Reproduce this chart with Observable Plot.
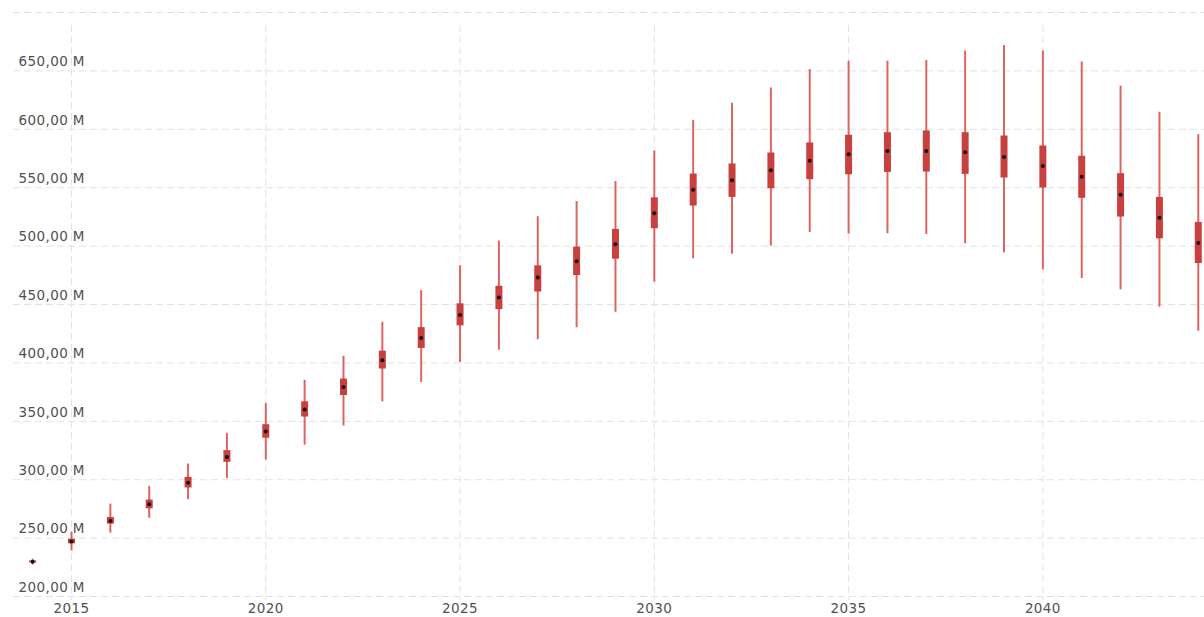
<!DOCTYPE html>
<html>
<head>
<meta charset="utf-8">
<script src="https://cdn.jsdelivr.net/npm/d3@7"></script>
<script src="https://cdn.jsdelivr.net/npm/@observablehq/plot@0.6"></script>
<style>
  html, body { margin: 0; padding: 0; background: #fff; }
  #chart svg { display: block; }
  #chart svg text { letter-spacing: 0.4px; }
</style>
</head>
<body>
<div id="chart"></div>
<script>
const years = [2014,2015,2016,2017,2018,2019,2020,2021,2022,2023,2024,2025,2026,2027,2028,2029,2030,2031,2032,2033,2034,2035,2036,2037,2038,2039,2040,2041,2042,2043,2044];
const low    = [227.1,239.1,254.3,267.1,282.9,300.9,316.9,329.6,346.0,366.7,383.3,400.3,410.9,419.8,430.1,443.3,469.1,489.1,493.1,500.0,511.7,510.3,510.6,510.0,502.0,494.3,479.7,472.3,462.6,447.7,427.1];
const q1     = [228.8,245.1,262.0,275.1,292.9,314.9,335.5,353.7,372.1,394.8,412.4,431.7,445.6,460.7,474.8,488.8,514.9,534.3,541.7,549.1,556.9,561.1,563.1,563.4,561.4,558.3,549.7,540.9,524.9,506.3,485.1];
const median = [229.7,247.1,264.6,278.9,297.4,319.4,341.2,360.1,379.3,402.3,421.3,441.0,455.9,473.1,487.1,501.7,528.1,548.3,556.3,564.9,573.1,578.6,581.4,581.4,580.3,576.3,568.6,559.4,544.0,524.3,502.6];
const q3     = [230.5,249.1,267.7,282.6,302.0,324.9,347.1,366.7,386.2,410.1,430.2,450.6,465.6,483.1,499.1,514.3,541.3,561.7,570.3,579.7,588.3,594.9,597.1,598.6,597.1,594.3,585.7,576.9,562.0,541.7,520.3];
const high   = [232.0,255.1,279.1,294.3,313.4,339.7,365.1,385.1,405.7,434.8,461.8,483.2,504.3,525.2,538.1,555.3,581.4,607.7,622.3,635.4,651.1,658.3,658.3,658.9,667.1,671.7,667.1,657.7,636.9,614.6,595.4];

const xTicks = [2015,2020,2025,2030,2035,2040];
const yGrid = [200,250,300,350,400,450,500,550,600,650,700];
const yLabels = [200,250,300,350,400,450,500,550,600,650];

const data = years.map((year, i) => ({year, low: low[i], q1: q1[i], median: median[i], q3: q3[i], high: high[i]}));

const fmtY = d => d.toFixed(2).replace(".", ",") + " M";

const chart = Plot.plot({
  width: 1204,
  height: 617,
  marginLeft: 13,
  marginRight: 0,
  marginTop: 12,
  marginBottom: 17,
  style: {fontFamily: "DejaVu Sans, sans-serif", fontSize: "13.5px", color: "#505050", background: "#fff"},
  x: {domain: [2013.507, 2044.16], axis: null, label: null},
  y: {domain: [196.6, 700], axis: null, label: null},
  marks: [
    Plot.gridY(yGrid, {stroke: "#e2e2e2", strokeOpacity: 1, strokeDasharray: "7,4"}),
    Plot.gridX(xTicks, {stroke: "#e2e2e2", strokeOpacity: 1, strokeDasharray: "7,4", insetTop: 13}),
    Plot.axisY(yLabels, {anchor: "left", label: null, tickSize: 0, tickPadding: 0, textAnchor: "start", dx: 5, dy: -9, tickFormat: fmtY, fill: "#505050"}),
    Plot.axisX(xTicks, {anchor: "bottom", label: null, tickSize: 0, tickPadding: 2.5, tickFormat: d => String(d), fill: "#505050"}),
    Plot.ruleX(data, {x: "year", y1: "low", y2: "high", stroke: "#dc6461", strokeWidth: 2}),
    Plot.ruleX(data, {x: "year", y1: "q1", y2: "q3", stroke: "#c9413e", strokeWidth: 7}),
    Plot.dot(data, {x: "year", y: "median", r: 2, fill: "#111", stroke: null})
  ]
});
document.getElementById("chart").append(chart);
</script>
</body>
</html>
